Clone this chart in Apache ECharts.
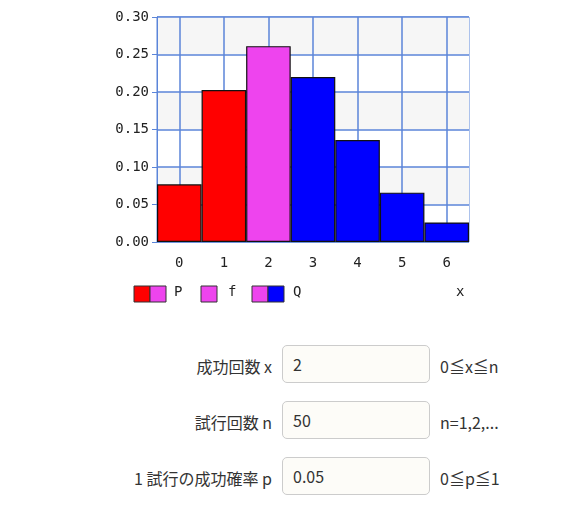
<!DOCTYPE html>
<html><head><meta charset="utf-8">
<script src="https://cdn.jsdelivr.net/npm/echarts@6/dist/echarts.min.js"></script>
<style>
body{margin:0;background:#fff;font-family:"Noto Sans CJK JP","Noto Sans",sans-serif;color:#333}
#chart{position:absolute;left:0;top:0;width:588px;height:320px}
.row{position:absolute;left:0;width:588px;height:38px;font-size:16px}
.lab{position:absolute;right:316px;top:9px;white-space:nowrap}
.inp{position:absolute;left:282px;top:0;width:136px;height:36px;border:1px solid #ccc;border-radius:5px;background:#fdfcf8;padding-left:10px;line-height:36px;font-size:16px}
.rng{position:absolute;left:440px;top:9px}
</style></head><body>
<div id="chart"></div>
<div class="row" style="top:345px"><span class="lab">成功回数 x</span><div class="inp">2</div><span class="rng">0≦x≦n</span></div>
<div class="row" style="top:401px"><span class="lab">試行回数 n</span><div class="inp">50</div><span class="rng">n=1,2,...</span></div>
<div class="row" style="top:457px"><span class="lab">1 試行の成功確率 p</span><div class="inp">0.05</div><span class="rng">0≦p≦1</span></div>
<script>
// 二項分布 n=50, p=0.05
var xLabels = ['0', '1', '2', '3', '4', '5', '6']
var probs = [0.0769, 0.2025, 0.2611, 0.2199, 0.1360, 0.0658, 0.0260]
var successX = 2
var yTicks = [0, 0.05, 0.10, 0.15, 0.20, 0.25, 0.30]

var RED = '#ff0000', PINK = '#ee44ee', BLUE = '#0000ff', GRIDC = '#5b85d9'

var barData = probs.map(function (v, i) {
  var c = i < successX ? RED : (i === successX ? PINK : BLUE)
  return { value: v, itemStyle: { color: c } }
})
var fine = []
for (var i = 0; i <= 14; i++) fine.push(i)

var chart = echarts.init(document.getElementById('chart'))
var lblFont = { fontFamily: 'DejaVu Sans Mono', fontSize: 14, color: '#222' }
chart.setOption({
  animation: false,
  grid: { left: 157, top: 17, width: 312, height: 225, show: true, borderColor: GRIDC, borderWidth: 1, backgroundColor: 'transparent' },
  xAxis: [
    { type: 'category', data: xLabels, axisLine: { show: false }, axisTick: { show: false },
      axisLabel: Object.assign({ margin: 14 }, lblFont), splitLine: { show: false } },
    { type: 'category', data: fine, boundaryGap: false, position: 'bottom', show: true,
      axisLine: { show: false }, axisTick: { show: false }, axisLabel: { show: false },
      splitLine: { show: true, interval: function (idx) { return idx % 2 === 1 }, lineStyle: { color: GRIDC, width: 1.5 } } }
  ],
  yAxis: {
    type: 'value', min: yTicks[0], max: yTicks[yTicks.length - 1], interval: 0.05,
    axisLine: { show: true, lineStyle: { color: GRIDC } }, axisTick: { show: true, length: 5, lineStyle: { color: GRIDC } },
    axisLabel: Object.assign({ formatter: function (v) { return v.toFixed(2) }, margin: 8 }, lblFont),
    splitLine: { lineStyle: { color: GRIDC, width: 1.5 } },
    splitArea: { show: true, areaStyle: { color: ['#ffffff', '#f6f6f6'] } }
  },
  series: [{
    type: 'bar', data: barData, barCategoryGap: 0, z: 3,
    itemStyle: { borderColor: '#111', borderWidth: 1.2 }
  }],
  graphic: [
    { type: 'rect', shape: { x: 134, y: 286, width: 16, height: 16 }, style: { fill: RED, stroke: '#333' } },
    { type: 'rect', shape: { x: 150, y: 286, width: 16, height: 16 }, style: { fill: PINK, stroke: '#333' } },
    { type: 'text', left: 174, top: 285, style: { text: 'P', font: '14px DejaVu Sans Mono', fill: '#222' } },
    { type: 'rect', shape: { x: 201, y: 286, width: 16, height: 16 }, style: { fill: PINK, stroke: '#333' } },
    { type: 'text', left: 228, top: 285, style: { text: 'f', font: '14px DejaVu Sans Mono', fill: '#222' } },
    { type: 'rect', shape: { x: 252, y: 286, width: 16, height: 16 }, style: { fill: PINK, stroke: '#333' } },
    { type: 'rect', shape: { x: 268, y: 286, width: 16, height: 16 }, style: { fill: BLUE, stroke: '#333' } },
    { type: 'text', left: 293, top: 285, style: { text: 'Q', font: '14px DejaVu Sans Mono', fill: '#222' } },
    { type: 'text', left: 456, top: 285, style: { text: 'x', font: '14px DejaVu Sans Mono', fill: '#222' } }
  ]
})
</script>
</body></html>
